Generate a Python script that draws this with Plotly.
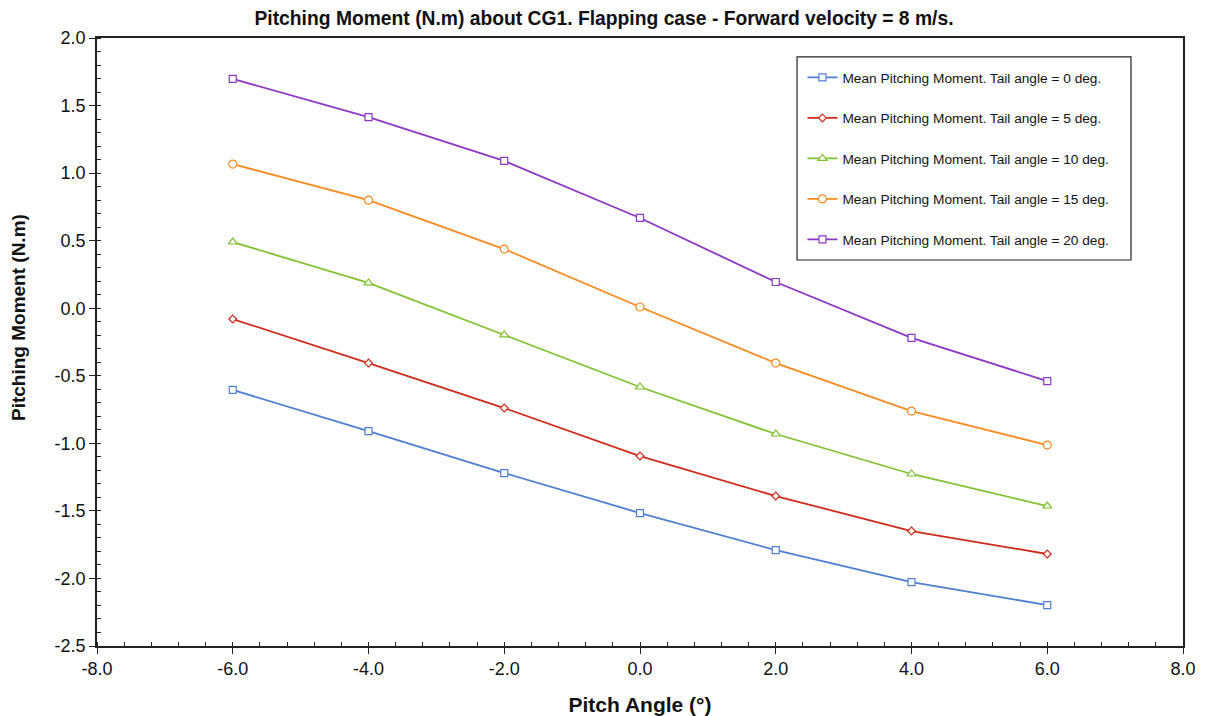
import plotly.graph_objects as go

pitch_angle = [-6, -4, -2, 0, 2, 4, 6]
tail0 = [-0.605, -0.909, -1.220, -1.516, -1.790, -2.027, -2.197]
tail5 = [-0.080, -0.406, -0.739, -1.094, -1.390, -1.649, -1.819]
tail10 = [0.490, 0.187, -0.198, -0.583, -0.931, -1.227, -1.464]
tail15 = [1.067, 0.800, 0.438, 0.009, -0.406, -0.761, -1.013]
tail20 = [1.697, 1.415, 1.090, 0.668, 0.194, -0.220, -0.539]

x_tick_vals = [-8, -6, -4, -2, 0, 2, 4, 6, 8]
x_tick_text = ["-8.0", "-6.0", "-4.0", "-2.0", "0.0", "2.0", "4.0", "6.0", "8.0"]
y_tick_vals = [2.0, 1.5, 1.0, 0.5, 0.0, -0.5, -1.0, -1.5, -2.0, -2.5]
y_tick_text = ["2.0", "1.5", "1.0", "0.5", "0.0", "-0.5", "-1.0", "-1.5", "-2.0", "-2.5"]

names = [
    "Mean Pitching Moment. Tail angle = 0 deg.",
    "Mean Pitching Moment. Tail angle = 5 deg.",
    "Mean Pitching Moment. Tail angle = 10 deg.",
    "Mean Pitching Moment. Tail angle = 15 deg.",
    "Mean Pitching Moment. Tail angle = 20 deg.",
]
series = [tail0, tail5, tail10, tail15, tail20]
colors = ["#4f7fd2", "#cf2a1c", "#80c232", "#f78a21", "#8e37c4"]
symbols = ["square", "diamond", "triangle-up", "circle", "square"]
sizes = [7, 6, 8, 8, 7]

fig = go.Figure()
for i, (nm, ys, c, s, sz) in enumerate(zip(names, series, colors, symbols, sizes)):
    fig.add_trace(go.Scatter(
        x=pitch_angle, y=ys, name=nm, mode="lines+markers",
        line=dict(color=c, width=1.8),
        marker=dict(symbol=s, size=sz, color="white", line=dict(color=c, width=1.2)),
        legendgroup=f"g{i}",
    ))

# legend frame (decoration around the legend, in paper coordinates)
fig.add_shape(type="rect", xref="paper", yref="paper",
              x0=0.6446, x1=0.9521, y0=0.6349, y1=0.9688,
              line=dict(color="#222", width=1.2), fillcolor="white", layer="below")

base = "Liberation Sans, Arial, sans-serif"
axis_font = dict(family=base, size=18, color="#111")

# y-axis title as rotated annotation (slightly above plot centre, as in the reference)
fig.add_annotation(
    text="<b>Pitching Moment (N.m)</b>", textangle=-90,
    xref="paper", yref="paper", x=-0.0718, y=0.5395,
    xanchor="center", yanchor="middle", showarrow=False,
    font=dict(family=base, size=19, color="#111"),
)

fig.update_layout(
    width=1208, height=716,
    margin=dict(l=97, r=25, t=38, b=70),
    paper_bgcolor="white", plot_bgcolor="rgba(0,0,0,0)",
    title=dict(
        text="<b>Pitching Moment (N.m) about CG1. Flapping case - Forward velocity = 8 m/s.</b>",
        x=0.5, xanchor="center", y=0.975, yanchor="middle",
        font=dict(family=base, size=19.3, color="#111"),
    ),
    font=axis_font,
    legend=dict(
        x=0.6496, y=0.9605, xanchor="left", yanchor="top",
        borderwidth=0, bgcolor="rgba(0,0,0,0)",
        font=dict(family=base, size=13.7, color="#111"),
        tracegroupgap=19.7, itemwidth=30,
    ),
    xaxis=dict(
        range=[-8, 8], tickvals=x_tick_vals, ticktext=x_tick_text,
        showline=True, linecolor="#222", linewidth=1.6, mirror=True,
        ticks="outside", ticklen=6, tickcolor="#222", tickwidth=1.3,
        minor=dict(dtick=0.4, ticks="inside", ticklen=4, tickcolor="#222", tickwidth=1),
        showgrid=False, zeroline=False, automargin=False,
        title=dict(text="<b>Pitch Angle (°)</b>", font=dict(family=base, size=21, color="#111"), standoff=19),
        tickfont=axis_font,
    ),
    yaxis=dict(
        range=[-2.5, 2.0], tickvals=y_tick_vals, ticktext=y_tick_text,
        showline=True, linecolor="#222", linewidth=1.6, mirror=True,
        ticks="outside", ticklen=6, tickcolor="#222", tickwidth=1.3,
        minor=dict(dtick=0.1, ticks="inside", ticklen=4, tickcolor="#222", tickwidth=1),
        showgrid=False, zeroline=False, automargin=False,
        tickfont=axis_font,
    ),
)

fig.write_html("out.html")
